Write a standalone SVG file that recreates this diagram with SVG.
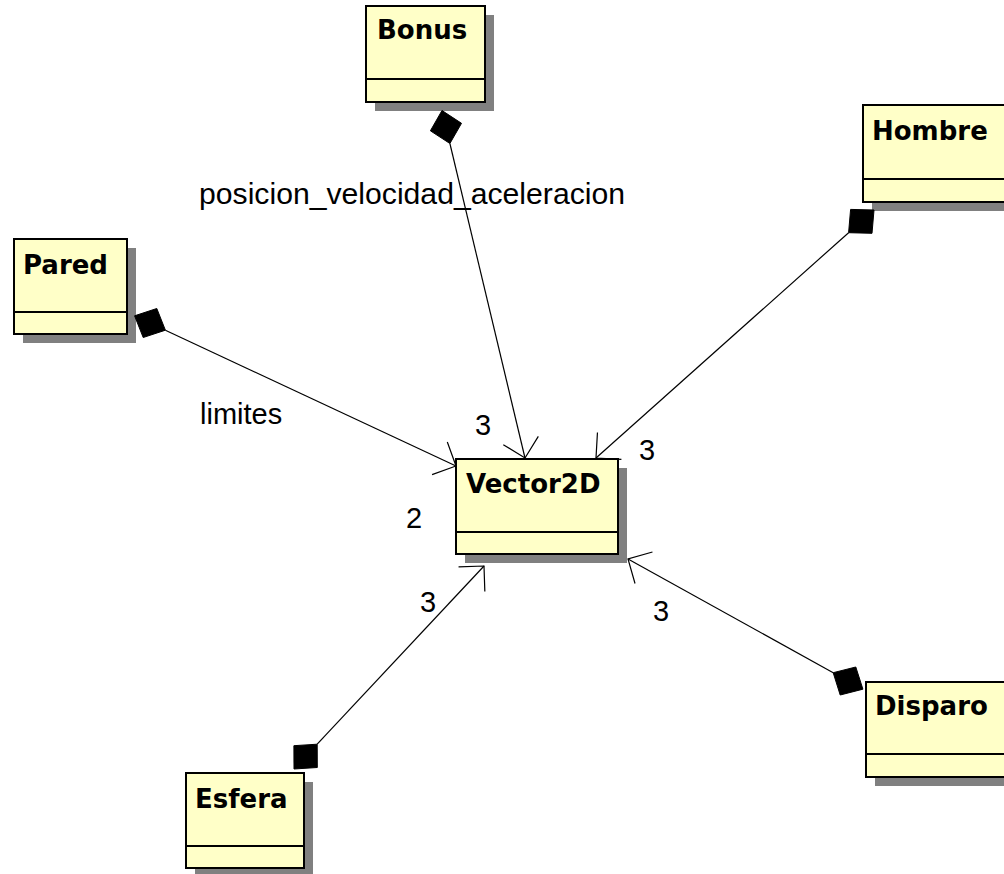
<svg xmlns="http://www.w3.org/2000/svg" width="1004" height="874" viewBox="0 0 1004 874">
  <style>
    .shadow { fill: #808080; }
    .box { fill: #ffffc8; stroke: #000; stroke-width: 2; }
    .div { stroke: #000; stroke-width: 2; }
    .name { font-family: "DejaVu Sans", sans-serif; font-weight: bold; font-size: 26px; fill: #000; }
    .lbl { font-family: "Liberation Sans", Arial, sans-serif; font-size: 29px; fill: #000; }
    .edge { fill: none; stroke: #000; stroke-width: 1.2; }
    .dia { fill: #000; stroke: #000; stroke-width: 1; }
  </style>
  <defs>
    <marker id="open" markerUnits="userSpaceOnUse" markerWidth="40" markerHeight="40" viewBox="-20 -20 40 40" refX="0" refY="0" orient="auto" overflow="visible">
      <path d="M-18,-18 L0,0 L-18,18" fill="none" stroke="#000" stroke-width="1.2"/>
    </marker>
  </defs>
  <rect width="1004" height="874" fill="#fff"/>

  <!-- classes -->
  <g id="Bonus">
    <rect class="shadow" x="375" y="15" width="119" height="96"/>
    <rect class="box" x="366" y="6" width="119" height="96"/>
    <line class="div" x1="366" y1="79" x2="485" y2="79"/>
    <text class="name" x="377" y="39">Bonus</text>
  </g>
  <g id="Pared">
    <rect class="shadow" x="23" y="248" width="113" height="95"/>
    <rect class="box" x="14" y="239" width="113" height="95"/>
    <line class="div" x1="14" y1="312" x2="127" y2="312"/>
    <text class="name" x="23" y="274">Pared</text>
  </g>
  <g id="Vector2D">
    <rect class="shadow" x="465" y="468" width="162" height="95"/>
    <rect class="box" x="456" y="459" width="162" height="95"/>
    <line class="div" x1="456" y1="532" x2="618" y2="532"/>
    <text class="name" x="466" y="493">Vector2D</text>
  </g>
  <g id="Hombre">
    <rect class="shadow" x="872" y="114" width="150" height="97"/>
    <rect class="box" x="863" y="105" width="150" height="97"/>
    <line class="div" x1="863" y1="179" x2="1013" y2="179"/>
    <text class="name" x="872" y="140">Hombre</text>
  </g>
  <g id="Disparo">
    <rect class="shadow" x="875" y="691" width="150" height="95"/>
    <rect class="box" x="866" y="682" width="150" height="95"/>
    <line class="div" x1="866" y1="754" x2="1016" y2="754"/>
    <text class="name" x="875" y="715">Disparo</text>
  </g>
  <g id="Esfera">
    <rect class="shadow" x="195" y="782" width="118" height="95"/>
    <rect class="box" x="186" y="773" width="118" height="95"/>
    <line class="div" x1="186" y1="846" x2="304" y2="846"/>
    <text class="name" x="195" y="808">Esfera</text>
  </g>

  <!-- composition associations, diamond at the owner side -->
  <g id="connectors">
    <polygon class="dia" points="442,110.5 461.5,123.3 449.9,143.5 430.4,130.8"/>
    <line class="edge" x1="449.9" y1="143.5" x2="525" y2="458" marker-end="url(#open)"/>

    <polygon class="dia" points="874,210 872,233.3 848.6,232.7 850.6,209.4"/>
    <line class="edge" x1="848.6" y1="232.7" x2="596" y2="458" marker-end="url(#open)"/>

    <polygon class="dia" points="134.6,315.8 156.8,308.5 165.4,330.2 143.2,337.5"/>
    <line class="edge" x1="165.4" y1="330.2" x2="456" y2="466" marker-end="url(#open)"/>

    <polygon class="dia" points="294,769 317.3,767.5 317.2,744.2 293.9,745.7"/>
    <line class="edge" x1="317.2" y1="744.2" x2="484" y2="566" marker-end="url(#open)"/>

    <polygon class="dia" points="862.9,689.2 855.8,667 833.2,672.7 840.2,695"/>
    <line class="edge" x1="833.2" y1="672.7" x2="628" y2="559" marker-end="url(#open)"/>
  </g>

  <!-- role names and multiplicities -->
  <g id="labels">
    <text class="lbl" x="199" y="204" textLength="426" lengthAdjust="spacingAndGlyphs">posicion_velocidad_aceleracion</text>
    <text class="lbl" x="200" y="424">limites</text>
    <text class="lbl" x="475" y="435">3</text>
    <text class="lbl" x="639" y="460">3</text>
    <text class="lbl" x="406" y="528">2</text>
    <text class="lbl" x="420" y="612">3</text>
    <text class="lbl" x="653" y="621">3</text>
  </g>
</svg>
